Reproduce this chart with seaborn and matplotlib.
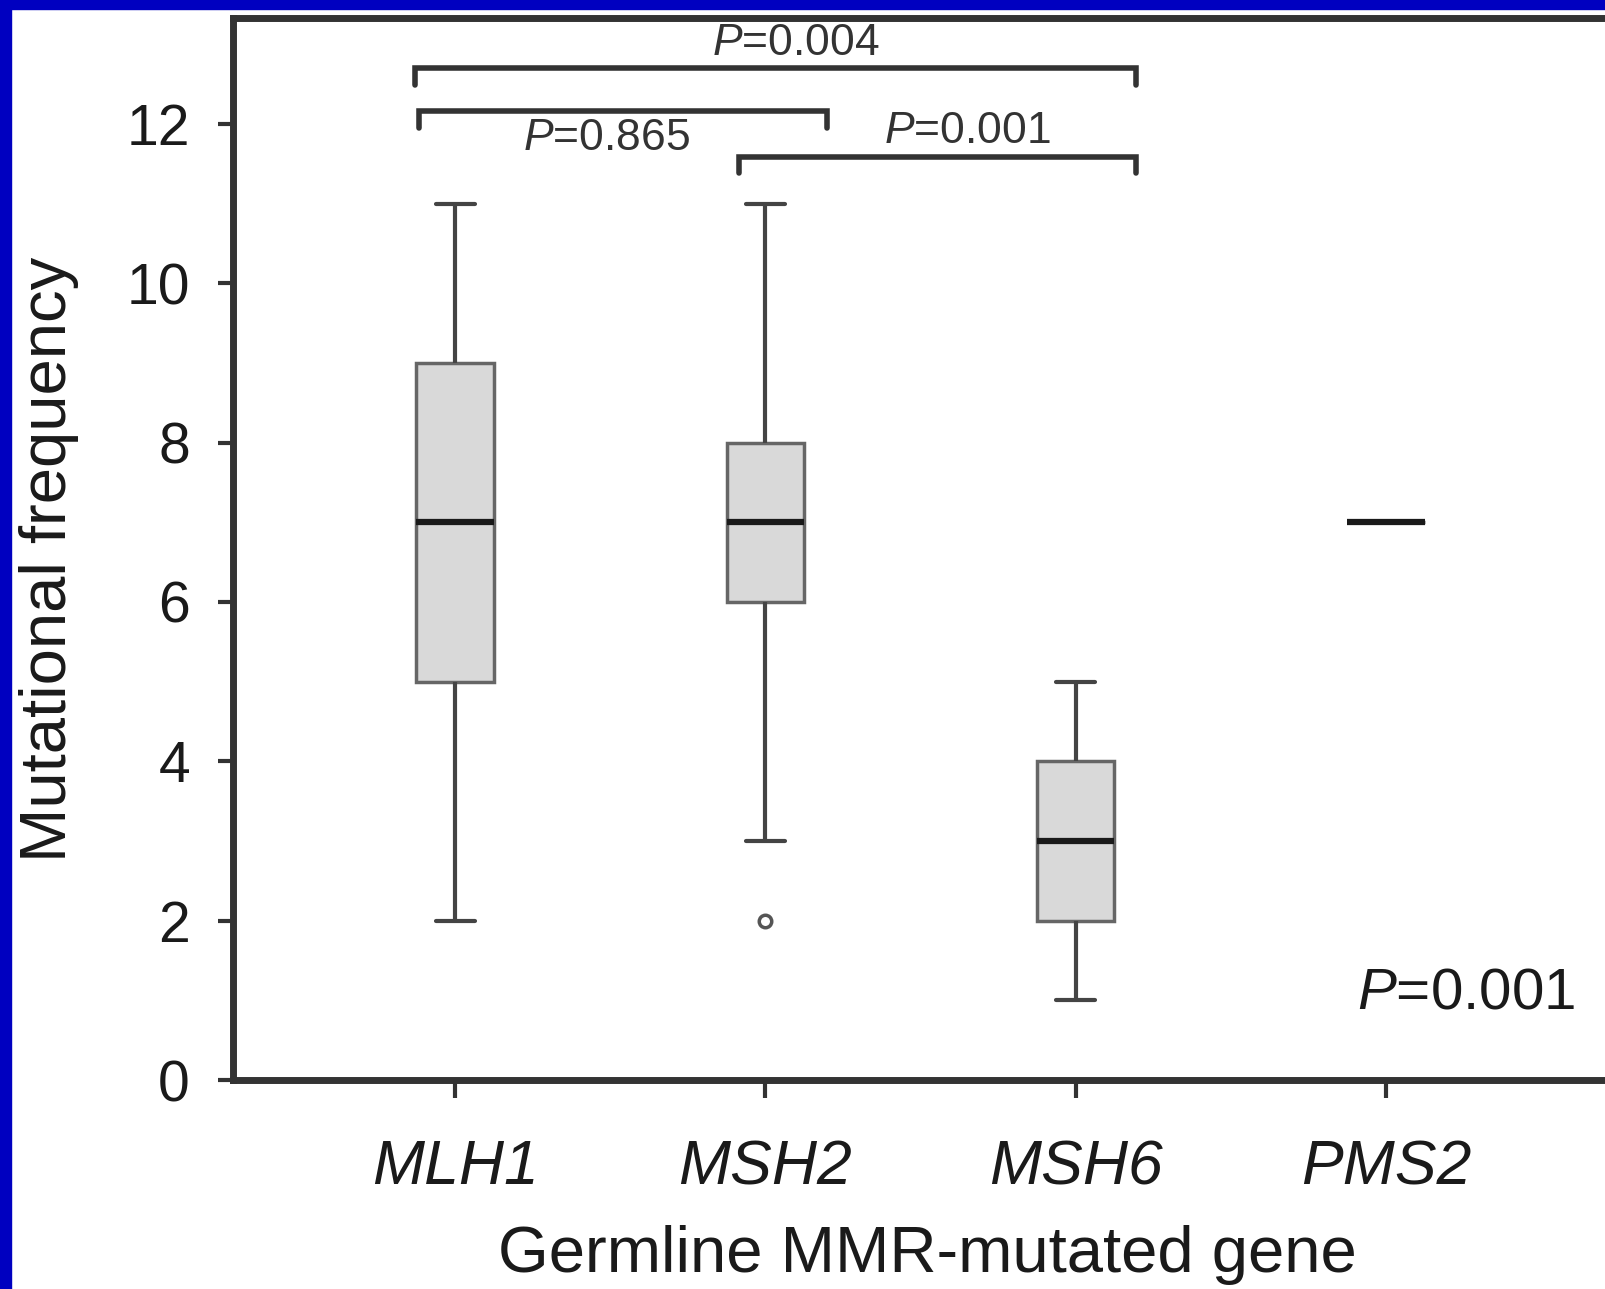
import numpy as np
import pandas as pd
import matplotlib
matplotlib.use("Agg")
import matplotlib.pyplot as plt
import seaborn as sns
from matplotlib.patches import Rectangle

# Genes on the x axis
genes = ["MLH1", "MSH2", "MSH6", "PMS2"]

# Mutational frequency per patient
mlh1 = [2, 5, 5, 6, 7, 8, 9, 9, 11]
msh2 = [2, 3, 6, 6, 7, 8, 8, 8, 11]
msh6 = [1, 2, 2, 3, 3, 3, 4, 4, 5]
pms2 = [7, 7]

# Pairwise comparisons: (left gene idx, right gene idx, label)
pairs = [(0, 2, "$P$=0.004"), (0, 1, "$P$=0.865"), (1, 2, "$P$=0.001")]
overall_p = "$P$=0.001"

df = pd.DataFrame({
    "gene": ["MLH1"] * len(mlh1) + ["MSH2"] * len(msh2)
            + ["MSH6"] * len(msh6) + ["PMS2"] * len(pms2),
    "freq": mlh1 + msh2 + msh6 + pms2,
})

sns.set_style("white")
plt.rcParams["font.family"] = ["Liberation Sans", "DejaVu Sans"]
plt.rcParams["mathtext.fontset"] = "custom"
plt.rcParams["mathtext.it"] = "Liberation Sans:italic"
plt.rcParams["mathtext.rm"] = "Liberation Sans"

fig = plt.figure(figsize=(16.05, 12.89), dpi=100)
ax = fig.add_axes([233 / 1605, 209 / 1289, 1375 / 1605, 1062 / 1289])

sns.boxplot(data=df, x="gene", y="freq", order=genes, ax=ax, width=0.25,
            color="#d9d9d9", linecolor="#555555", linewidth=3,
            whis=1.5, saturation=1,
            boxprops=dict(facecolor="#d9d9d9", edgecolor="#666666", linewidth=2.5),
            medianprops=dict(color="#1a1a1a", linewidth=4.5),
            whiskerprops=dict(color="#444444", linewidth=3),
            capprops=dict(color="#444444", linewidth=3),
            flierprops=dict(marker="o", markersize=9, markerfacecolor="white",
                            markeredgecolor="#555555", markeredgewidth=2.5))

ax.set_xlim(-0.716, 3.716)
ax.set_ylim(0, 13.33)
ax.set_yticks([0, 2, 4, 6, 8, 10, 12])

for side in ["left", "bottom", "top"]:
    ax.spines[side].set_linewidth(5)
    ax.spines[side].set_color("#333333")
ax.spines["right"].set_visible(False)

ax.tick_params(axis="y", length=11, width=3, color="#333333", labelsize=41, pad=20,
               left=True, labelcolor="#1a1a1a")
ax.tick_params(axis="x", length=13, width=3, color="#333333", labelsize=45, pad=29,
               bottom=True, labelcolor="#1a1a1a")
for lab in ax.get_xticklabels():
    lab.set_fontstyle("italic")

ax.set_ylabel("Mutational frequency", fontsize=47, va="center", color="#1a1a1a")
ax.yaxis.set_label_coords(-0.134, 0.49)
ax.set_xlabel("Germline MMR-mutated gene", fontsize=47, va="baseline", color="#1a1a1a")
ax.xaxis.set_label_coords(0.505, -0.181)

# significance brackets
bracket_y = [12.70, 12.16, 11.59]
bracket_x = [(-0.128, 2.194), (-0.115, 1.198), (0.914, 2.194)]
text_xy = [(1.098, 13.01), (0.488, 11.82), (1.652, 11.90)]
for (x0, x1), y, (tx, ty), (_, _, lab) in zip(bracket_x, bracket_y, text_xy, pairs):
    ax.plot([x0, x0, x1, x1], [y - 0.21, y, y, y - 0.21], color="#333333",
            lw=4, clip_on=False, solid_joinstyle="miter")
    ax.text(tx, ty, lab, ha="center", va="center", fontsize=32, color="#333333")

ax.text(3.258, 1.09, overall_p, ha="center", va="center", fontsize=42, color="#1a1a1a")

# blue frame on the top and left edges
fig.patches.append(Rectangle((0, 1 - 9 / 1289), 1, 9 / 1289, transform=fig.transFigure,
                             color="#0000c0", zorder=10))
fig.patches.append(Rectangle((0, 0), 11 / 1605, 1, transform=fig.transFigure,
                             color="#0000c0", zorder=10))

fig.savefig("out.png", dpi=100)
